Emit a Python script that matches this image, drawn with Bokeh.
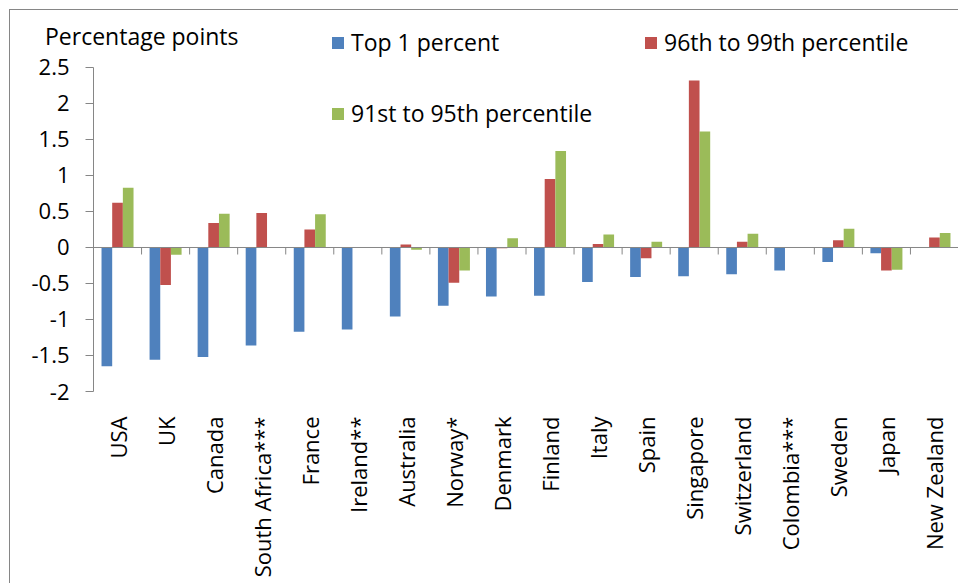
import numpy as np
from math import pi
from bokeh.plotting import figure
from bokeh.models import Range1d, LinearAxis, FixedTicker, Legend, LegendItem, Span, Div
from bokeh.embed import file_html
from bokeh.resources import INLINE

countries = ["USA", "UK", "Canada", "South Africa***", "France", "Ireland**", "Australia",
             "Norway*", "Denmark", "Finland", "Italy", "Spain", "Singapore", "Switzerland",
             "Colombia***", "Sweden", "Japan", "New Zealand"]
top1 = [-1.65, -1.56, -1.52, -1.36, -1.17, -1.14, -0.96, -0.81, -0.68, -0.67, -0.48, -0.41,
        -0.40, -0.37, -0.32, -0.20, -0.08, None]
p96_99 = [0.62, -0.52, 0.34, 0.48, 0.25, None, 0.04, -0.49, -0.01, 0.95, 0.05, -0.15,
          2.32, 0.08, None, 0.10, -0.32, 0.14]
p91_95 = [0.83, -0.10, 0.47, None, 0.46, None, -0.03, -0.32, 0.13, 1.34, 0.18, 0.08,
          1.61, 0.19, None, 0.26, -0.31, 0.20]
series_names = ["Top 1 percent", "96th to 99th percentile", "91st to 95th percentile"]
y_ticks = [-2, -1.5, -1, -0.5, 0, 0.5, 1, 1.5, 2, 2.5]
y_tick_labels = ["-2", "-1.5", "-1", "-0.5", "0", "0.5", "1", "1.5", "2", "2.5"]
y_axis_title = "Percentage points"

FONT = "Open Sans"
FS = "22px"
FS_L = "23px"
AX = "#868686"
colors = ["#4F81BD", "#C0504D", "#9BBB59"]

n = len(countries)
centers = np.arange(n) + 0.5
boundaries = np.arange(n + 1)
bw = 0.222

p = figure(width=958, height=583, output_backend="svg", toolbar_location=None,
           x_range=Range1d(0, n), y_range=Range1d(-2, 3.083),
           min_border_left=93, min_border_right=0, min_border_top=25, min_border_bottom=192,
           x_axis_type=None, y_axis_type=None)
p.grid.visible = False
p.outline_line_color = None
p.background_fill_color = None
p.border_fill_color = None
p.stylesheets = [":host { position: relative; }"
                 " :host::after { content: ''; position: absolute; left: 9px; top: 9px; right: 0; bottom: 0;"
                 " border-left: 1px solid #868686; border-top: 1px solid #868686;"
                 " pointer-events: none; z-index: 10; }"]

renderers = []
for k, (vals, col) in enumerate(zip([top1, p96_99, p91_95], colors)):
    v = np.array([np.nan if x is None else x for x in vals], dtype=float)
    r = p.vbar(x=centers + (k - 1) * bw, width=bw, top=v, bottom=0,
               fill_color=col, line_color=None)
    renderers.append(r)

# zero line with tick marks at the category boundaries
p.add_layout(Span(location=0, dimension="width", line_color=AX, line_width=1))
p.ray(x=boundaries, y=np.zeros(n + 1), length=7, length_units="screen", angle=-pi / 2,
      line_color=AX, line_width=1)

# y axis
yax = LinearAxis(ticker=FixedTicker(ticks=y_ticks), bounds=(-2, 2.5),
                 major_label_overrides={t: l for t, l in zip(y_ticks, y_tick_labels)})
yax.axis_line_color = AX
yax.major_tick_line_color = AX
yax.major_tick_out = 8
yax.major_tick_in = 0
yax.minor_tick_line_color = None
yax.major_label_standoff = 16
yax.major_label_text_font = FONT
yax.major_label_text_font_size = FS
yax.major_label_text_color = "#000000"
p.add_layout(yax, "left")

# category label axis
xax = LinearAxis(ticker=FixedTicker(ticks=list(centers)),
                 major_label_overrides={float(c): name for c, name in zip(centers, countries)})
xax.axis_line_color = None
xax.major_tick_line_color = None
xax.minor_tick_line_color = None
xax.major_label_orientation = pi / 2
xax.major_label_standoff = 19
xax.major_label_text_font = FONT
xax.major_label_text_font_size = FS
xax.major_label_text_color = "#000000"
p.add_layout(xax, "below")

legend = Legend(items=[LegendItem(label=nm, renderers=[r]) for nm, r in zip(series_names, renderers)],
                orientation="horizontal", ncols=2, location=(237, 262),
                glyph_width=15, glyph_height=15, label_standoff=6, spacing=39, label_width=253,
                padding=0, margin=0, border_line_color=None, background_fill_alpha=0,
                label_text_font=FONT, label_text_font_size=FS_L, label_text_color="#000000")
p.add_layout(legend, "center")

# value-axis title (horizontal, top left), as an HTML element over the plot
title_div = Div(text=y_axis_title,
                styles={"position": "absolute", "left": "45px", "top": "20px",
                        "font-family": "'Open Sans'", "font-size": FS_L, "color": "#000000",
                        "white-space": "nowrap", "line-height": "normal", "z-index": "20",
                        "margin": "0", "padding": "0"})

root = p
if "elements" in p.properties():
    p.elements = [title_div]
else:
    from bokeh.layouts import column
    root = column(p, title_div, styles={"position": "relative"})

open("out.html", "w").write(file_html(root, INLINE))
